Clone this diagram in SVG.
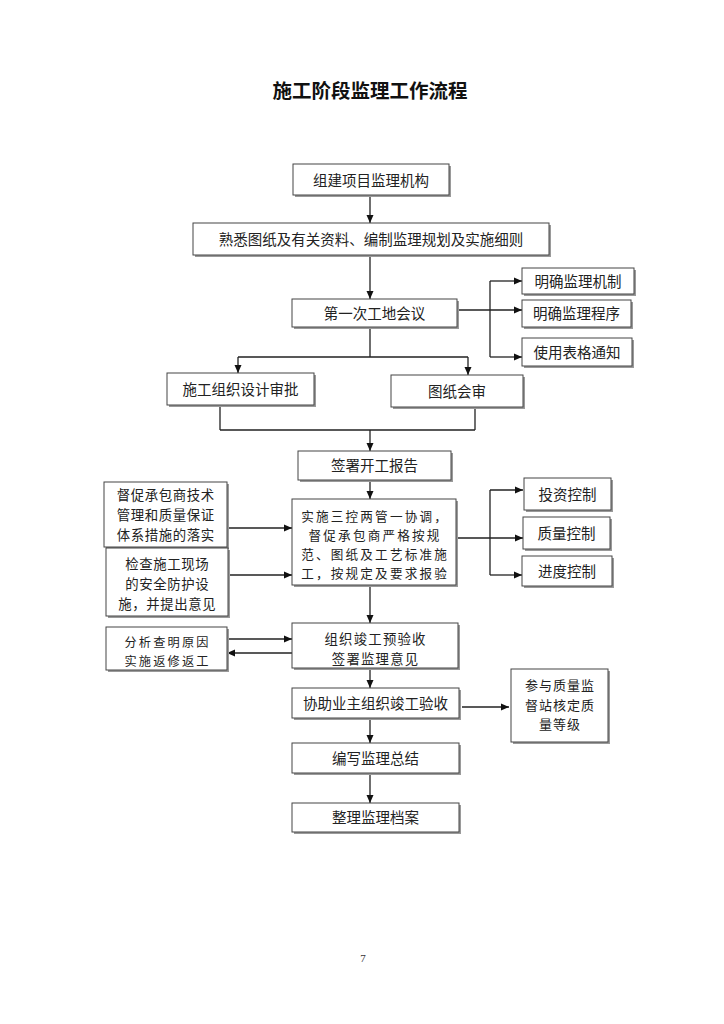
<svg xmlns="http://www.w3.org/2000/svg" width="724" height="1024" viewBox="0 0 724 1024">
<style>
.bx{fill:#fff;stroke:#444;stroke-width:1}
.sh{fill:#9a9a9a}
.t{font-family:"Noto Sans CJK SC","Liberation Serif",serif;font-size:14.5px;fill:#222;text-anchor:middle}
.m1{font-size:13.4px;letter-spacing:0.6px}
.m2{font-size:12.6px;letter-spacing:2.2px}
.m3{font-size:12.2px;letter-spacing:2.2px}
.m4{font-size:13px;letter-spacing:1px}
.m5{font-size:13.4px;letter-spacing:1.2px}
.c{fill:none;stroke:#222;stroke-width:1.3}
.a{marker-end:url(#ah)}
</style>
<defs>
<marker id="ah" markerUnits="userSpaceOnUse" markerWidth="8" markerHeight="8" refX="8" refY="4" orient="auto">
<path d="M0,0.5 L8,4 L0,7.5 z" fill="#111"/>
</marker>
</defs>
<rect width="724" height="1024" fill="#fff"/>
<text x="370" y="98" style="font-family:'Noto Sans CJK SC',sans-serif;font-size:19.5px;font-weight:bold;text-anchor:middle;fill:#111">施工阶段监理工作流程</text>

<g id="connectors">
<path class="c a" d="M370,196 V223"/>
<path class="c a" d="M370,255 V299"/>
<path class="c a" d="M457,310 H522"/>
<path class="c" d="M490,281 V357"/>
<path class="c a" d="M490,281 H522"/>
<path class="c a" d="M490,357 H522"/>
<path class="c" d="M370,327 V357 M238,357 H468"/>
<path class="c a" d="M238,357 V373"/>
<path class="c a" d="M468,357 V375"/>
<path class="c" d="M220,405 V430 M475,407 V430 M220,430 H475"/>
<path class="c a" d="M370,430 V451"/>
<path class="c a" d="M370,480 V499"/>
<path class="c a" d="M227,528 H292"/>
<path class="c a" d="M228,575 H292"/>
<path class="c" d="M456,538 H490 M490,490 V575"/>
<path class="c a" d="M490,490 H523"/>
<path class="c a" d="M490,538 H523"/>
<path class="c a" d="M490,575 H522"/>
<path class="c a" d="M370,585 V623"/>
<path class="c a" d="M227,639 H292"/>
<path class="c a" d="M292,653 H227"/>
<path class="c a" d="M370,668 V688"/>
<path class="c a" d="M462,707 H509"/>
<path class="c a" d="M370,718 V743"/>
<path class="c a" d="M370,773 V803"/>
</g>

<g id="n1"><rect class="sh" x="295" y="166" width="156" height="31"/><rect class="bx" x="293" y="164" width="156" height="31"/><text class="t" x="371" y="185.5">组建项目监理机构</text></g>
<g id="n2"><rect class="sh" x="195" y="225" width="356" height="32"/><rect class="bx" x="193" y="223" width="356" height="32"/><text class="t" x="371" y="244.5">熟悉图纸及有关资料、编制监理规划及实施细则</text></g>
<g id="n3"><rect class="sh" x="294" y="301" width="165" height="28"/><rect class="bx" x="292" y="299" width="165" height="28"/><text class="t" x="374.5" y="318.5">第一次工地会议</text></g>
<g id="r1"><rect class="sh" x="524" y="270" width="112" height="26"/><rect class="bx" x="522" y="268" width="112" height="26"/><text class="t" x="578" y="286.5">明确监理机制</text></g>
<g id="r2"><rect class="sh" x="524" y="302" width="109" height="27"/><rect class="bx" x="522" y="300" width="109" height="27"/><text class="t" x="576.5" y="319">明确监理程序</text></g>
<g id="r3"><rect class="sh" x="524" y="340" width="110" height="28"/><rect class="bx" x="522" y="338" width="110" height="28"/><text class="t" x="577" y="357.5">使用表格通知</text></g>
<g id="n4"><rect class="sh" x="169" y="375" width="147" height="32"/><rect class="bx" x="167" y="373" width="147" height="32"/><text class="t" x="240.5" y="394.5">施工组织设计审批</text></g>
<g id="n5"><rect class="sh" x="393" y="377" width="132" height="32"/><rect class="bx" x="391" y="375" width="132" height="32"/><text class="t" x="457" y="396.5">图纸会审</text></g>
<g id="n6"><rect class="sh" x="300" y="453" width="153" height="29"/><rect class="bx" x="298" y="451" width="153" height="29"/><text class="t" x="374.5" y="471">签署开工报告</text></g>
<g id="l1"><rect class="sh" x="106" y="484" width="123" height="65"/><rect class="bx" x="104" y="482" width="123" height="65"/><text class="t m1" x="165.8" y="500">督促承包商技术</text><text class="t m1" x="165.8" y="520">管理和质量保证</text><text class="t m1" x="165.8" y="540">体系措施的落实</text></g>
<g id="l2"><rect class="sh" x="108" y="550" width="122" height="68"/><rect class="bx" x="106" y="548" width="122" height="68"/><text class="t m1" x="167.3" y="568.5">检查施工现场</text><text class="t m1" x="167.3" y="588.5">的安全防护设</text><text class="t m1" x="167.3" y="608.5">施，并提出意见</text></g>
<g id="n7"><rect class="sh" x="294" y="501" width="164" height="86"/><rect class="bx" x="292" y="499" width="164" height="86"/><text class="t m2" x="375.1" y="521">实施三控两管一协调，</text><text class="t m2" x="375.1" y="540">督促承包商严格按规</text><text class="t m2" x="375.1" y="559">范、图纸及工艺标准施</text><text class="t m2" x="375.1" y="578">工，按规定及要求报验</text></g>
<g id="r4"><rect class="sh" x="526" y="480" width="87" height="32"/><rect class="bx" x="524" y="478" width="87" height="32"/><text class="t" x="567.5" y="499.5">投资控制</text></g>
<g id="r5"><rect class="sh" x="525" y="519" width="87" height="32"/><rect class="bx" x="523" y="517" width="87" height="32"/><text class="t" x="566.5" y="538.5">质量控制</text></g>
<g id="r6"><rect class="sh" x="524" y="558" width="90" height="30"/><rect class="bx" x="522" y="556" width="90" height="30"/><text class="t" x="567" y="576.5">进度控制</text></g>
<g id="n8"><rect class="sh" x="294" y="625" width="166" height="45"/><rect class="bx" x="292" y="623" width="166" height="45"/><text class="t m5" x="375.6" y="643.5">组织竣工预验收</text><text class="t m5" x="375.6" y="663.5">签署监理意见</text></g>
<g id="l3"><rect class="sh" x="108" y="629" width="121" height="43"/><rect class="bx" x="106" y="627" width="121" height="43"/><text class="t m3" x="167.6" y="647">分析查明原因</text><text class="t m3" x="167.6" y="665.5">实施返修返工</text></g>
<g id="n9"><rect class="sh" x="294" y="690" width="167" height="30"/><rect class="bx" x="292" y="688" width="167" height="30"/><text class="t" x="375.5" y="708.5">协助业主组织竣工验收</text></g>
<g id="r7"><rect class="sh" x="513" y="671" width="97" height="73"/><rect class="bx" x="511" y="669" width="97" height="73"/><text class="t m4" x="560" y="690">参与质量监</text><text class="t m4" x="560" y="709.5">督站核定质</text><text class="t m4" x="560" y="729">量等级</text></g>
<g id="n10"><rect class="sh" x="294" y="745" width="167" height="30"/><rect class="bx" x="292" y="743" width="167" height="30"/><text class="t" x="375.5" y="763.5">编写监理总结</text></g>
<g id="n11"><rect class="sh" x="294" y="805" width="167" height="29"/><rect class="bx" x="292" y="803" width="167" height="29"/><text class="t" x="375.5" y="823">整理监理档案</text></g>

<text x="363" y="962" style="font-family:'Liberation Serif',serif;font-size:11px;fill:#333;text-anchor:middle">7</text>
</svg>
